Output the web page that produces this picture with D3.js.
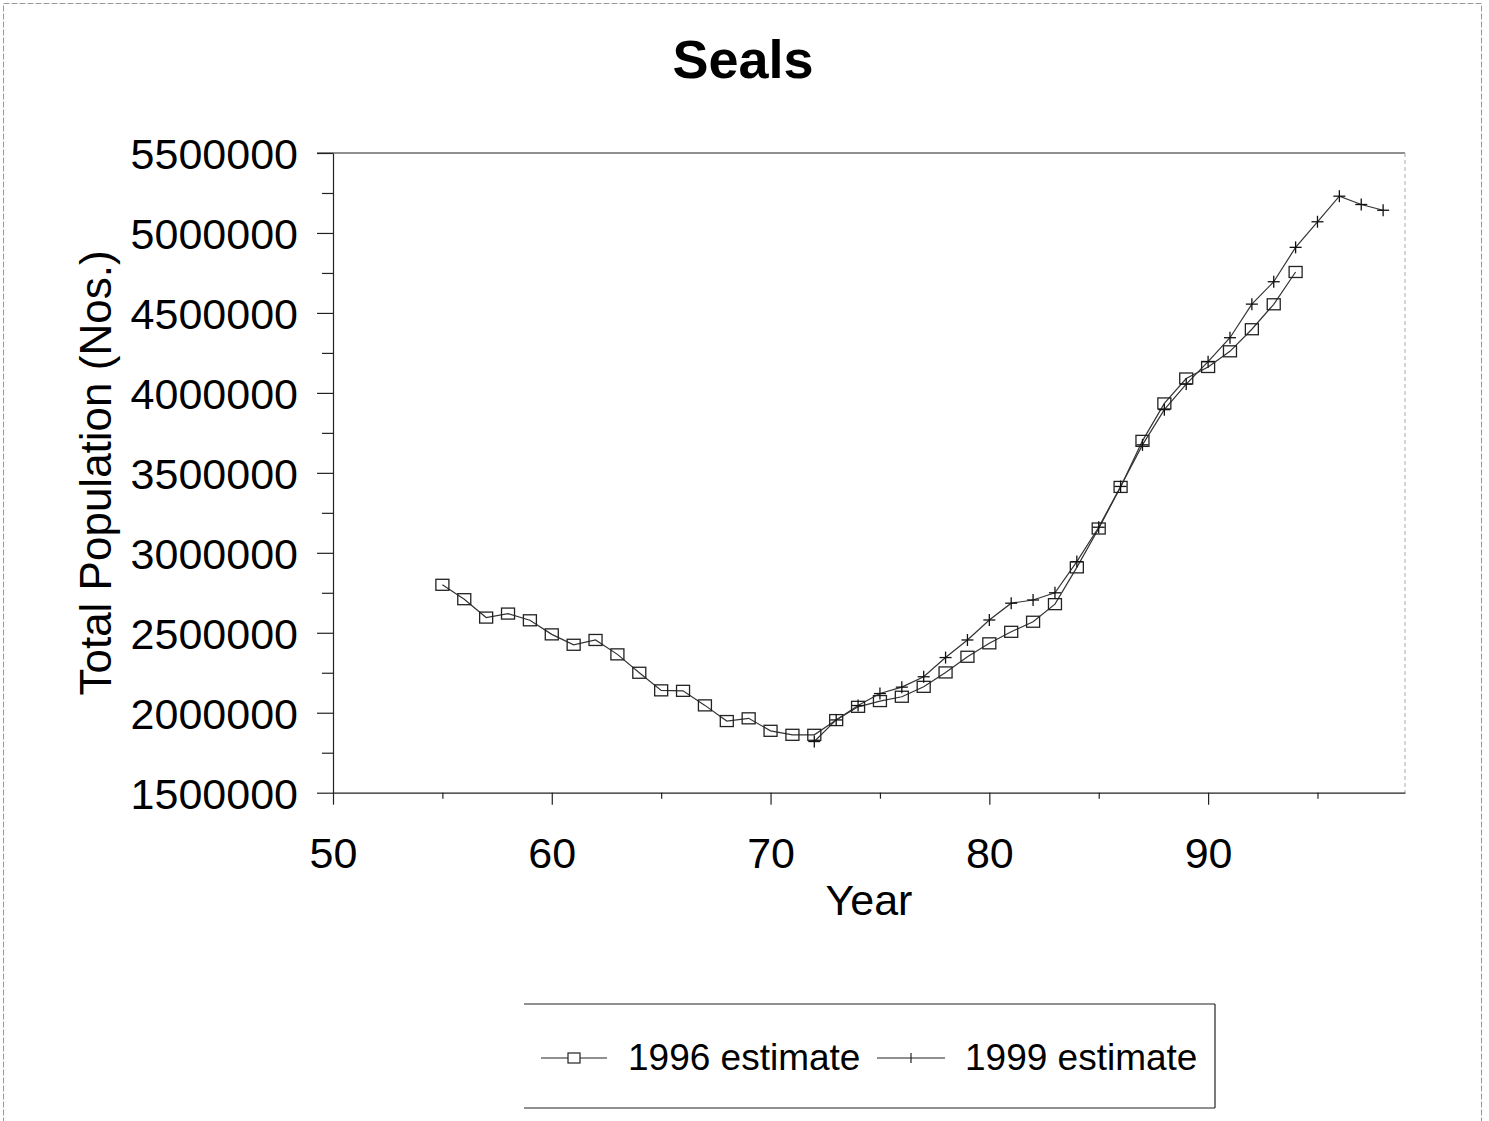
<!DOCTYPE html>
<html>
<head>
<meta charset="utf-8">
<script src="https://cdn.jsdelivr.net/npm/d3@7"></script>
<style>
  html, body { margin: 0; padding: 0; background: #fff; }
  svg { display: block; }
  text { font-family: "Liberation Sans", Arial, sans-serif; fill: #000; }
</style>
</head>
<body>
<svg id="chart" width="1489" height="1121"></svg>
<script>
// ---- data ----
const title = "Seals";
const xLabel = "Year";
const yLabel = "Total Population (Nos.)";
const seriesNames = ["1996 estimate", "1999 estimate"];

const years1996 = [55,56,57,58,59,60,61,62,63,64,65,66,67,68,69,70,71,72,73,74,75,76,77,78,79,80,81,82,83,84,85,86,87,88,89,90,91,92,93,94];
const values1996 = [2800000,2710000,2595000,2620000,2578000,2490000,2425000,2455000,2365000,2250000,2140000,2137000,2046000,1948000,1965000,1887000,1862000,1862000,1954000,2037000,2073000,2100000,2162000,2252000,2350000,2434000,2506000,2569000,2679000,2909000,3152000,3412000,3700000,3934000,4090000,4162000,4260000,4398000,4554000,4756000];

const years1999 = [72,73,74,75,76,77,78,79,80,81,82,83,84,85,86,87,88,89,90,91,92,93,94,95,96,97,98];
const values1999 = [1820000,1955000,2045000,2120000,2160000,2225000,2345000,2455000,2580000,2685000,2705000,2750000,2945000,3160000,3415000,3675000,3895000,4055000,4195000,4345000,4555000,4695000,4910000,5070000,5230000,5178000,5142000];

const xTicks = [50,60,70,80,90];
const xMinorTicks = [55,65,75,85,95];
const yTicks = [1500000,2000000,2500000,3000000,3500000,4000000,4500000,5000000,5500000];
const yMinorTicks = [1750000,2250000,2750000,3250000,3750000,4250000,4750000,5250000];

// ---- layout ----
const svg = d3.select("#chart");
const pLeft = 333, pRight = 1405, pTop = 153, pBottom = 792.7;

const x = d3.scaleLinear().domain([50, 99]).range([pLeft, pRight]);
const y = d3.scaleLinear().domain([1500000, 5500000]).range([pBottom, pTop]);

// outer frame
svg.append("rect").attr("x", 3.5).attr("y", 3.5).attr("width", 1478).attr("height", 1130)
  .attr("fill", "none").attr("stroke", "#9a9a9a").attr("stroke-width", 1).attr("stroke-dasharray", "6,2");

// title
svg.append("text").attr("x", 743).attr("y", 78).attr("text-anchor", "middle")
  .style("font-size", "54px").style("font-weight", "bold").text(title);

// plot frame top & right
svg.append("line").attr("x1", pLeft - 16).attr("x2", pRight).attr("y1", pTop).attr("y2", pTop)
  .attr("stroke", "#222").attr("stroke-width", 1.2);
svg.append("line").attr("x1", pRight).attr("x2", pRight).attr("y1", pTop).attr("y2", pBottom)
  .attr("stroke", "#aaa").attr("stroke-width", 1).attr("stroke-dasharray", "4,3");

// y axis
const yAxisG = svg.append("g").attr("transform", `translate(${pLeft},0)`)
  .call(d3.axisLeft(y).tickValues(yTicks).tickSize(16).tickSizeOuter(0).tickPadding(19).tickFormat(d3.format("d")));
svg.append("g").attr("transform", `translate(${pLeft},0)`)
  .call(d3.axisLeft(y).tickValues(yMinorTicks).tickSize(11).tickFormat(""))
  .call(g => g.select(".domain").remove());
yAxisG.selectAll("text").style("font-size", "43px").attr("dy", "0.36em");

// x axis
const xAxisG = svg.append("g").attr("transform", `translate(0,${pBottom})`)
  .call(d3.axisBottom(x).tickValues(xTicks).tickSize(12).tickSizeOuter(0).tickFormat(d3.format("d")));
svg.append("g").attr("transform", `translate(0,${pBottom})`)
  .call(d3.axisBottom(x).tickValues(xMinorTicks).tickSize(6).tickFormat(""))
  .call(g => g.select(".domain").remove());
xAxisG.selectAll("text").style("font-size", "43px").attr("y", 75).attr("dy", 0);

svg.selectAll(".domain, .tick line").attr("stroke", "#222").attr("stroke-width", 1.2);

// axis titles
svg.append("text").attr("x", (pLeft + pRight) / 2).attr("y", 915).attr("text-anchor", "middle")
  .style("font-size", "43px").text(xLabel);
svg.append("text").attr("transform", "translate(111,473) rotate(-90)").attr("text-anchor", "middle")
  .style("font-size", "44px").text(yLabel);

// series
const d1996 = years1996.map((yr, i) => ({ yr, v: values1996[i] }));
const d1999 = years1999.map((yr, i) => ({ yr, v: values1999[i] }));
const line = d3.line().x(d => x(d.yr)).y(d => y(d.v));

svg.append("path").datum(d1996).attr("d", line).attr("fill", "none")
  .attr("stroke", "#333").attr("stroke-width", 1.2);
svg.append("path").datum(d1999).attr("d", line).attr("fill", "none")
  .attr("stroke", "#333").attr("stroke-width", 1.2);

const bw = 13, bh = 11, pl = 6;
svg.append("g").selectAll("rect").data(d1996).join("rect")
  .attr("x", d => x(d.yr) - bw / 2).attr("y", d => y(d.v) - bh / 2)
  .attr("width", bw).attr("height", bh)
  .attr("fill", "none").attr("stroke", "#222").attr("stroke-width", 1.3);

const plus = svg.append("g").selectAll("g").data(d1999).join("g")
  .attr("transform", d => `translate(${x(d.yr)},${y(d.v)})`);
plus.append("line").attr("x1", -pl).attr("x2", pl).attr("stroke", "#111").attr("stroke-width", 1.3);
plus.append("line").attr("y1", -pl).attr("y2", pl).attr("stroke", "#111").attr("stroke-width", 1.3);

// legend
const lg = svg.append("g");
lg.append("line").attr("x1", 524).attr("x2", 1215).attr("y1", 1004).attr("y2", 1004).attr("stroke", "#222").attr("stroke-width", 1.2);
lg.append("line").attr("x1", 524).attr("x2", 1215).attr("y1", 1108).attr("y2", 1108).attr("stroke", "#222").attr("stroke-width", 1.2);
lg.append("line").attr("x1", 1215).attr("x2", 1215).attr("y1", 1004).attr("y2", 1108).attr("stroke", "#222").attr("stroke-width", 1.2);

const legendItems = [
  { name: seriesNames[0], lx1: 541, lx2: 607, tx: 628, marker: "box" },
  { name: seriesNames[1], lx1: 877, lx2: 945, tx: 965, marker: "plus" }
];
const ly = 1058;
legendItems.forEach(it => {
  lg.append("line").attr("x1", it.lx1).attr("x2", it.lx2).attr("y1", ly).attr("y2", ly)
    .attr("stroke", "#222").attr("stroke-width", 1.2);
  const cx = (it.lx1 + it.lx2) / 2;
  if (it.marker === "box") {
    lg.append("rect").attr("x", cx - 6).attr("y", ly - 5).attr("width", 12).attr("height", 10)
      .attr("fill", "#fff").attr("stroke", "#222").attr("stroke-width", 1.2);
  } else {
    lg.append("line").attr("x1", cx).attr("x2", cx).attr("y1", ly - 5).attr("y2", ly + 5)
      .attr("stroke", "#222").attr("stroke-width", 1.2);
  }
  lg.append("text").attr("x", it.tx).attr("y", ly + 12).style("font-size", "37px").text(it.name);
});
</script>
</body>
</html>
